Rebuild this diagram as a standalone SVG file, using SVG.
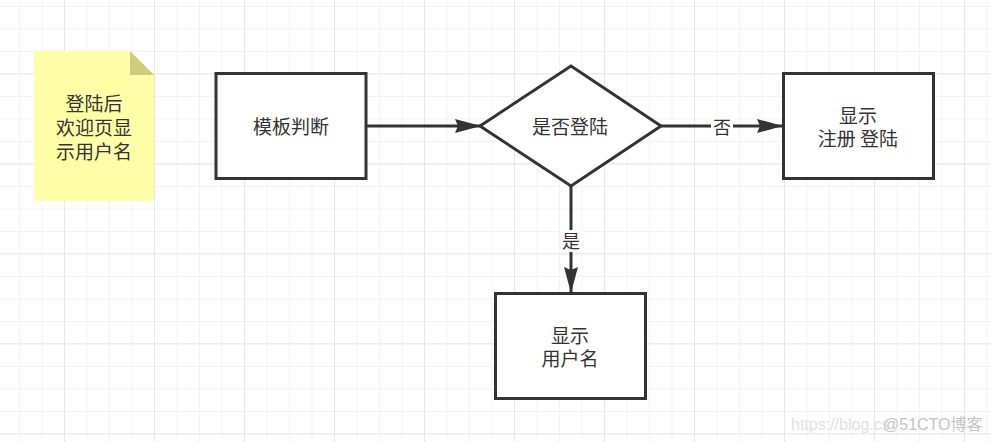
<svg xmlns="http://www.w3.org/2000/svg" width="991" height="442" viewBox="0 0 991 442">
<defs>
<pattern id="minor" x="19" y="6" width="22.5" height="22.5" patternUnits="userSpaceOnUse">
<path d="M0 0 H22.5 M0 0 V22.5" fill="none" stroke="#f0f0f0" stroke-width="1.5"/>
</pattern>
<pattern id="major" x="64" y="73.3" width="90" height="90" patternUnits="userSpaceOnUse">
<path d="M0 0 H90 M0 0 V90" fill="none" stroke="#e4e4e4" stroke-width="1.5"/>
</pattern>
<marker id="arrow" viewBox="0 0 26 14" refX="25" refY="7" markerWidth="26" markerHeight="14" markerUnits="userSpaceOnUse" orient="auto">
<path d="M0 0 L26 7 L0 14 L3 7 Z" fill="#333"/>
</marker>
</defs>
<style>
.box{fill:#fff;stroke:#333;stroke-width:3}
.t{font-family:"Noto Sans CJK SC","Liberation Sans",sans-serif;font-size:19px;fill:#333;text-anchor:middle}
.lbl{font-family:"Noto Sans CJK SC","Liberation Sans",sans-serif;font-size:18px;fill:#333;text-anchor:middle}
.edge{stroke:#333;stroke-width:3;fill:none;marker-end:url(#arrow)}
</style>
<rect width="991" height="442" fill="#fff"/>
<rect width="991" height="442" fill="url(#minor)"/>
<rect width="991" height="442" fill="url(#major)"/>

<g id="note">
<path d="M34 51 H130 L154 75 V201 H34 Z" fill="#ffffa8"/>
<path d="M130 51 L154 75 H130 Z" fill="#cdcd7c"/>
<text class="t" x="94" y="111">登陆后</text>
<text class="t" x="94" y="135">欢迎页显</text>
<text class="t" x="94" y="159">示用户名</text>
</g>

<g id="connectors">
<line class="edge" x1="366" y1="126" x2="480" y2="126"/>
<line class="edge" x1="661" y1="126" x2="782" y2="126"/>
<line class="edge" x1="571" y1="186" x2="571" y2="292"/>
<rect x="711" y="116" width="22" height="22" fill="#fff"/>
<text class="lbl" x="722" y="134">否</text>
<rect x="560" y="230" width="22" height="22" fill="#fff"/>
<text class="lbl" x="571" y="248">是</text>
</g>

<g id="node-template">
<rect class="box" x="216" y="73.5" width="150" height="105"/>
<text class="t" x="291" y="134">模板判断</text>
</g>

<g id="node-decision">
<path class="box" d="M480 126 L571 66 L661 126 L571 186 Z"/>
<text class="t" x="570" y="134">是否登陆</text>
</g>

<g id="node-register">
<rect class="box" x="783.5" y="73.5" width="150" height="105"/>
<text class="t" x="858" y="123">显示</text>
<text class="t" x="858" y="146">注册 登陆</text>
</g>

<g id="node-username">
<rect class="box" x="495.5" y="293.5" width="150" height="105"/>
<text class="t" x="570" y="343">显示</text>
<text class="t" x="570" y="366">用户名</text>
</g>

<g id="watermark" font-family="'Liberation Sans','Noto Sans CJK SC',sans-serif" font-size="16">
<text x="791" y="430" fill="#e2e2e2">https://blog.cs</text>
<text x="883" y="430" fill="#c4c4c4">@51CTO博客</text>
</g>
</svg>
